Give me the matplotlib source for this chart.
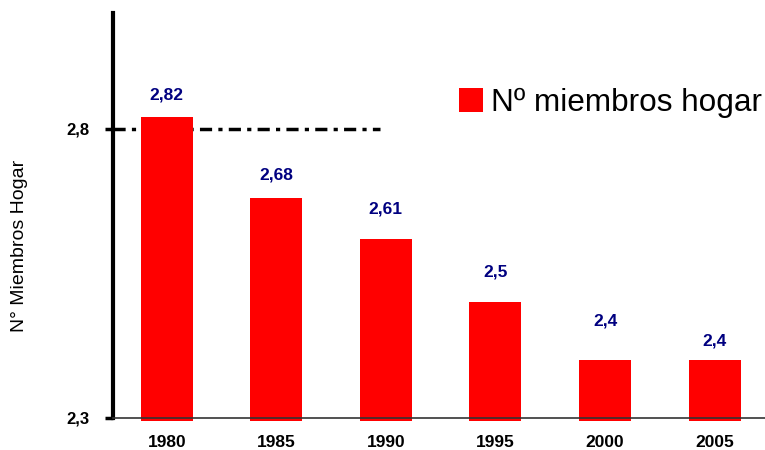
import matplotlib.pyplot as plt
from matplotlib.patches import Patch

years = ['1980', '1985', '1990', '1995', '2000', '2005']
miembros = [2.82, 2.68, 2.61, 2.5, 2.4, 2.4]
labels = ['2,82', '2,68', '2,61', '2,5', '2,4', '2,4']
# label distance above the bar top (points), as hand-placed in the original
label_pad = [16, 16.5, 21, 22, 28, 14]

plt.rcParams['font.family'] = ['Liberation Sans', 'DejaVu Sans']

fig = plt.figure(figsize=(7.65, 4.5), dpi=100)
ax = fig.add_axes([113 / 765, 32 / 450, 652 / 765, 405 / 450])

base = 2.295
x = list(range(len(years)))
ax.bar(x, [v - base for v in miembros], bottom=base, width=0.475,
       color='#ff0000', clip_on=False, zorder=3)

for xi, v, t, p in zip(x, miembros, labels, label_pad):
    ax.annotate(t, (xi, v), xytext=(0, p), textcoords='offset points',
                ha='center', va='center', color='#000080',
                fontsize=12.5, fontweight='bold')

# reference line at 2,8
ax.axhline(2.8, xmin=0, xmax=0.41, color='black', lw=2.5,
           dashes=(3.5, 1.8, 1.2, 1.8), zorder=2)

ax.set_xlim(-0.49, 5.46)
ax.set_ylim(2.3, 3.0)
ax.set_yticks([2.3, 2.8])
ax.set_yticklabels(['2,3', '2,8'], fontweight='bold', fontsize=12)
ax.set_xticks(x)
ax.set_xticklabels(years, fontweight='bold', fontsize=12.5)
ax.tick_params(axis='x', length=0, pad=12)
ax.tick_params(axis='y', length=6, width=2.5, pad=11)

for s in ['top', 'right']:
    ax.spines[s].set_visible(False)
ax.spines['left'].set_linewidth(3)
ax.spines['bottom'].set_linewidth(1.2)
ax.spines['bottom'].set_color('#333333')
ax.spines['bottom'].set_zorder(4)

ax.set_ylabel('N° Miembros Hogar', fontsize=14)
ax.yaxis.set_label_coords(-0.131, 0.425)

handle = Patch(facecolor='#ff0000', edgecolor='none')
ax.legend([handle], ['Nº miembros hogar'], loc='upper right',
          bbox_to_anchor=(1.0, 0.823), frameon=False, fontsize=22.7,
          handlelength=0.75, handleheight=0.75, handletextpad=0.25,
          borderpad=0.0, borderaxespad=0.1)

fig.savefig('out.png', dpi=100)
